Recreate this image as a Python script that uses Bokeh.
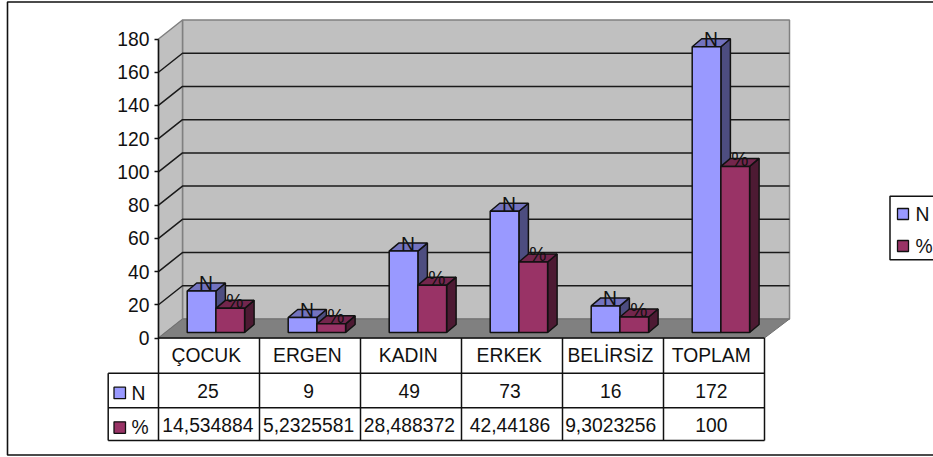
from bokeh.plotting import figure
from bokeh.models import Range1d, ColumnDataSource, FixedTicker
from bokeh.core.properties import value
from bokeh.embed import file_html
from bokeh.resources import INLINE

categories = ["ÇOCUK", "ERGEN", "KADIN", "ERKEK", "BELİRSİZ", "TOPLAM"]
series_names = ["N", "%"]
n_values = [25, 9, 49, 73, 16, 172]
pct_values = [14.534884, 5.2325581, 28.488372, 42.44186, 9.3023256, 100]
pct_labels = ["14,534884", "5,2325581", "28,488372", "42,44186", "9,3023256", "100"]
y_ticks = [0, 20, 40, 60, 80, 100, 120, 140, 160, 180]

W, H = 933, 457
X0, STEP = 158.0, 101.0      # pixel of category axis origin, pixels per category
Y0, UNIT = 337.5, 299.0 / 180  # pixel of value 0, pixels per value unit
FONT = value("Liberation Sans")
FS = "19.3px"


def X(px):
    return (px - X0) / STEP


def Y(py):
    return (Y0 - py) / UNIT


p = figure(width=W, height=H, output_backend="svg", toolbar_location=None,
           x_range=Range1d(X(0), X(W)), y_range=Range1d(Y(H), Y(0)),
           min_border=0, x_axis_location=None, outline_line_color=None,
           background_fill_color="white", border_fill_color="white",
           styles={"position": "absolute", "left": "0px", "top": "0px"})
p.grid.visible = False

# outer chart frame
p.line([X(W), X(7), X(7), X(W)], [Y(1.5), Y(1.5), Y(454.5), Y(454.5)],
       line_color="#111111", line_width=1.6)

# walls and floor
WALL_DX, WALL_DY = 24.0, 19.0
WALL_W = 606.0
xf, xb = X(X0), X(X0 + WALL_DX)
xfr, xbr = X(X0 + WALL_W), X(X0 + WALL_W + WALL_DX + 1)
yb0, yb1 = Y(Y0 - WALL_DY), 180 + WALL_DY / UNIT
p.patch([xb, xbr, xbr, xb], [yb0, yb0, yb1, yb1], fill_color="#C0C0C0",
        line_color="#808080", line_width=1.5)
p.patch([xf, xb, xb, xf], [0, yb0, yb1, 180], fill_color="#C0C0C0",
        line_color="#808080", line_width=1.5)
p.patch([xf, xfr, xbr, xb], [0, 0, yb0, yb0], fill_color="#808080",
        line_color="#707070", line_width=1)

# gridlines: on side wall and back wall
for t in y_ticks[1:-1]:
    p.line([xf, xb, xbr], [t, t + WALL_DY / UNIT, t + WALL_DY / UNIT],
           line_color="#1a1a1a", line_width=1.5)

# 3-D bars
BAR_W = 28.7 / STEP
GAP = 21.7 / STEP
FRONT_DX, FRONT_DY = 7.0 / STEP, 5.5 / UNIT
DEPTH_DX, DEPTH_DY = 9.5 / STEP, 8.0 / UNIT
colors = [("#9999FF", "#4D4D80", "#7373BF"), ("#993366", "#4D1A33", "#73264D")]

for i in range(len(categories)):
    for s, vals in enumerate([n_values, pct_values]):
        front, side, top = colors[s]
        l = i + GAP + FRONT_DX + s * BAR_W
        r = l + BAR_W
        b = FRONT_DY
        t = vals[i] + FRONT_DY
        p.patch([r, r + DEPTH_DX, r + DEPTH_DX, r],
                [b, b + DEPTH_DY, t + DEPTH_DY, t],
                fill_color=side, line_color="#111111", line_width=1.5)
        p.patch([l, r, r + DEPTH_DX, l + DEPTH_DX],
                [t, t, t + DEPTH_DY, t + DEPTH_DY],
                fill_color=top, line_color="#111111", line_width=1.5)
        p.quad(left=[l], right=[r], bottom=[b], top=[t], fill_color=front,
               line_color="#111111", line_width=1.5)

# data labels sitting on the bars
lab_x, lab_y, lab_t = [], [], []
for i in range(len(categories)):
    for s, vals in enumerate([n_values, pct_values]):
        lab_x.append(i + GAP + FRONT_DX + (s + 0.5) * BAR_W + 4.5 / STEP)
        lab_y.append(vals[i] + FRONT_DY + 7.0 / UNIT)
        lab_t.append(series_names[s])
p.text(x="x", y="y", text="t", source=ColumnDataSource(dict(x=lab_x, y=lab_y, t=lab_t)),
       text_font=FONT, text_font_size=FS, text_color="#111111",
       text_align="center", text_baseline="middle")

# value axis on the front left edge
ax = p.yaxis[0]
ax.fixed_location = 0
ax.bounds = (0, 180)
ax.ticker = FixedTicker(ticks=y_ticks)
ax.major_tick_in = 0
ax.major_tick_out = 4
ax.minor_tick_line_color = None
ax.axis_line_color = "#111111"
ax.axis_line_width = 1.5
ax.major_tick_line_color = "#111111"
ax.major_tick_line_width = 1.3
ax.major_label_text_font = "Liberation Sans"
ax.major_label_text_font_size = FS
ax.major_label_text_color = "#111111"
ax.major_label_standoff = 5

# data table
ROWS = [337.5, 372.7, 407.3, 440.0]
TX0 = 107.7
TBL = "#111111"
n = len(categories)
for py in ROWS[:1]:
    p.line([X(X0), X(X0 + n * STEP)], [Y(py)] * 2, line_color=TBL, line_width=1.5)
for py in ROWS[1:]:
    p.line([X(TX0), X(X0 + n * STEP)], [Y(py)] * 2, line_color=TBL, line_width=1.5)
p.line([X(TX0), X(TX0)], [Y(ROWS[1]), Y(ROWS[3])], line_color=TBL, line_width=1.5)
for i in range(n + 1):
    p.line([i, i], [Y(ROWS[0]), Y(ROWS[3])], line_color=TBL, line_width=1.5)

rows_text = [categories, [str(v) for v in n_values], pct_labels]
for r, txt in enumerate(rows_text):
    # reference cell texts sit slightly left of the cell centres
    shift = -2.7 if r == 0 else -1.0 - 0.1
    cx = [X(X0 + (i + 0.5) * STEP + shift - (0.3 * i if r else 0)) for i in range(n)]
    yc = Y((ROWS[r] + ROWS[r + 1]) / 2 + (1 if r == 2 else 0))
    p.text(x=cx, y=[yc] * n, text=txt, text_font=FONT, text_font_size=FS,
           text_color="#111111", text_align="center", text_baseline="middle")

# table keys
for r, (name, col) in enumerate(zip(series_names, colors)):
    top = ROWS[r + 1] + 14.0
    p.quad(left=[X(113.5)], right=[X(125)], top=[Y(top)], bottom=[Y(top + 11.5)],
           fill_color=col[0], line_color="#111111", line_width=1.3)
    p.text(x=[X(131)], y=[Y(top + 6)], text=[name], text_font=FONT, text_font_size=FS,
           text_color="#111111", text_align="left", text_baseline="middle")

# legend
p.line([X(W), X(889.5), X(889.5), X(W)], [Y(195.7), Y(195.7), Y(259.3), Y(259.3)],
       line_color="#111111", line_width=1.5)
for name, col, top in zip(series_names, colors, [208.0, 240.0]):
    p.quad(left=[X(897)], right=[X(908)], top=[Y(top)], bottom=[Y(top + 11)],
           fill_color=col[0], line_color="#111111", line_width=1.3)
    p.text(x=[X(915)], y=[Y(top + 5.5)], text=[name], text_font=FONT, text_font_size=FS,
           text_color="#111111", text_align="left", text_baseline="middle")

open("out.html", "w").write(file_html(p, INLINE))
